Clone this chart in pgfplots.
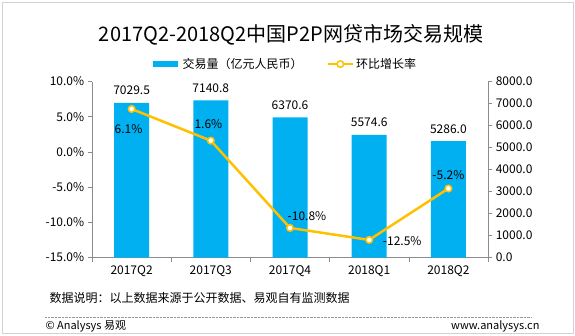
\documentclass[border=0pt]{standalone}
\usepackage{pgfplots}
\pgfplotsset{compat=1.18}
\usepackage{fontspec}
\setmainfont{Noto Sans CJK SC}
\definecolor{barblue}{HTML}{00B0F0}
\definecolor{lineyel}{HTML}{FFC000}
\definecolor{axgray}{HTML}{8C8C8C}
\begin{document}
\begin{tikzpicture}[x=1pt,y=1pt]
\useasboundingbox (0pt,0pt) rectangle (575pt,335pt);
\draw[draw=gray!35, line width=0.8pt] (2pt,2pt) rectangle (573pt,333pt);
\node[font=\fontsize{20}{24}\selectfont] at (291pt,300pt) {2017Q2-2018Q2中国P2P网贷市场交易规模};
\node[anchor=west, font=\fontsize{12}{14}\selectfont] at (46pt,37.3pt) {数据说明：以上数据来源于公开数据、易观自有监测数据};
\draw[densely dotted, gray!80] (45pt,18.3pt) -- (532pt,18.3pt);
\node[anchor=west, font=\fontsize{11}{13}\selectfont] at (42pt,9pt) {© Analysys 易观};
\node[anchor=east, font=\fontsize{11}{13}\selectfont] at (543pt,9pt) {www.analysys.cn};

\pgfplotsset{
  base/.style={
    scale only axis, width=396pt, height=176pt,
    xmin=-0.5, xmax=4.5,
    tick align=outside, major tick length=4.3pt,
    tick style={axgray, line width=0.6pt},
    axis line style={axgray, line width=0.6pt},
    ticklabel style={font=\fontsize{12}{14}\selectfont},
    /pgf/number format/assume math mode=true,
    /pgf/number format/1000 sep={},
  },
}

\begin{axis}[base, name=ax1,
  at={(92pt,77.5pt)}, anchor=south west,
  axis y line*=right, axis x line*=bottom,
  ymin=0, ymax=8000, ytick={0,1000,...,8000},
  yticklabel={\pgfmathprintnumber[fixed,fixed zerofill,precision=1]{\tick}},
  xtick={-0.5,0.5,...,4.5},
  xticklabels={2017Q2,2017Q3,2017Q4,2018Q1,2018Q2},
  x tick label as interval,
  ybar, bar width=35pt,
  nodes near coords={\pgfmathprintnumber[fixed,fixed zerofill,precision=1]{\pgfplotspointmeta}},
  nodes near coords style={font=\fontsize{12}{14}\selectfont, anchor=south, yshift=4.5pt},
]
\addplot[fill=barblue, draw=none] coordinates {(0,7029.5) (1,7140.8) (2,6370.6) (3,5574.6) (4,5286.0)};
\end{axis}

\begin{axis}[base,
  at={(ax1.south west)}, anchor=south west,
  axis y line*=left, axis x line=none,
  ymin=-15, ymax=10, ytick={-15,-10,...,10},
  yticklabel={\pgfmathprintnumber[fixed,fixed zerofill,precision=1]{\tick}\%},
  legend columns=2,
  legend style={at={(0.485,1.099)}, anchor=center, draw=none, fill=none,
    font=\fontsize{12}{14}\selectfont,
    /tikz/every even column/.append style={column sep=22pt}},
  legend image code/.code={\draw[mark repeat=2,mark phase=2,#1] plot coordinates {(0pt,0pt) (12.5pt,0pt) (25pt,0pt)};},
]
\addlegendimage{barblue, line width=5.5pt}
\addlegendentry{交易量（亿元人民币）}
\addplot[lineyel, line width=2.5pt, mark=*, mark size=3.3pt,
  mark options={fill=white, draw=lineyel, line width=1.5pt}]
  coordinates {(0,6.1) (1,1.6) (2,-10.8) (3,-12.5) (4,-5.2)};
\addlegendentry{环比增长率}
\begin{scope}[font=\fontsize{12}{14}\selectfont]
\node[xshift=-3pt, yshift=-20pt] at (axis cs:0,6.1) {6.1\%};
\node[xshift=-2.4pt, yshift=16.4pt] at (axis cs:1,1.6) {1.6\%};
\node[xshift=17pt, yshift=12.3pt] at (axis cs:2,-10.8) {-10.8\%};
\node[xshift=33pt, yshift=-1pt] at (axis cs:3,-12.5) {-12.5\%};
\node[xshift=0pt, yshift=13.4pt] at (axis cs:4,-5.2) {-5.2\%};
\end{scope}
\end{axis}
\end{tikzpicture}
\end{document}
